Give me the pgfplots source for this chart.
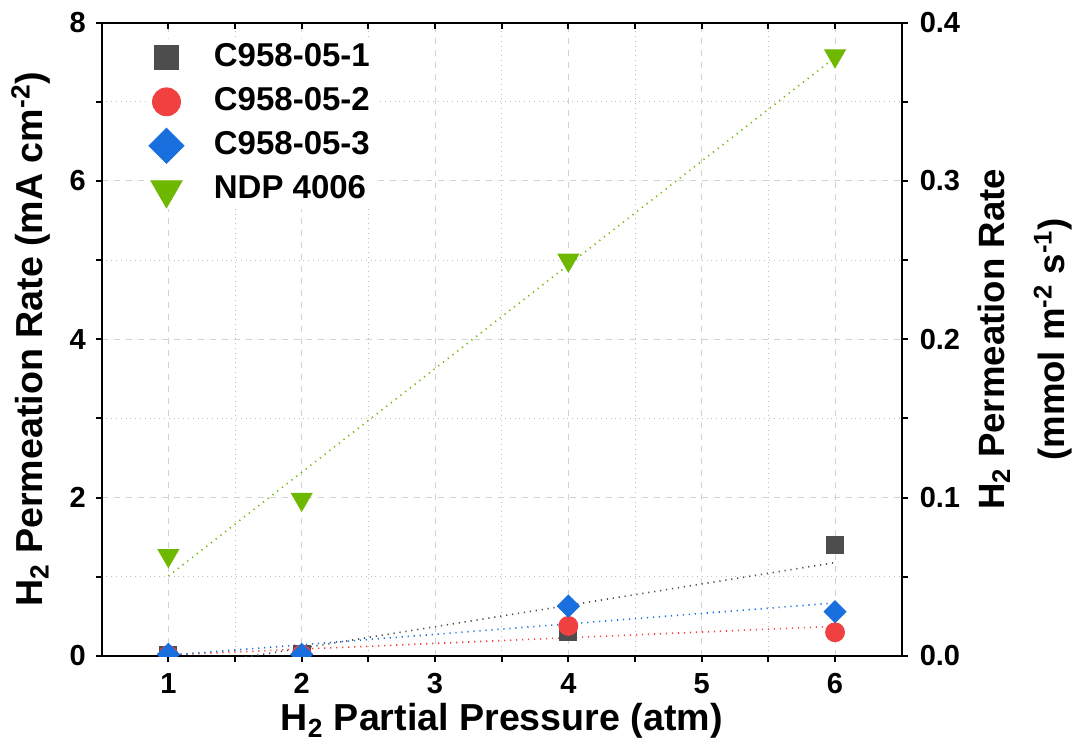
\documentclass[border=0pt]{standalone}
\usepackage{fontspec}
\setmainfont{Liberation Sans}
\usepackage{pgfplots}
\pgfplotsset{compat=1.18}
\definecolor{cblack}{HTML}{4D4D4D}
\definecolor{cred}{HTML}{F14040}
\definecolor{cblue}{HTML}{1A6FDF}
\definecolor{cgreen}{HTML}{6FB802}
\pgfplotsset{
  base/.style={scale only axis, width=400pt, height=316.7pt, xmin=0.5, xmax=6.5, ymin=0, ymax=8,
    axis line style={line width=1pt}, every tick/.style={black, line width=1pt},
    major tick length=3pt, minor tick length=3pt,
    tick label style={font=\bfseries\fontsize{14.5}{14.5}\selectfont},
    /pgf/number format/assume math mode=true},
  fitline/.style={line width=0.8pt, dash pattern=on 0.6pt off 2.4pt, forget plot},
}
\begin{document}
\begin{tikzpicture}
\useasboundingbox (-50.85pt,-45pt) rectangle (486.65pt,328pt);
\begin{axis}[base, axis x line*=bottom, axis y line*=left, tick align=outside,
  clip marker paths=true,
  xtick={1,2,3,4,5,6}, minor x tick num=1, ytick={0,2,4,6,8}, minor y tick num=1,
  xticklabel style={yshift=-2pt}, yticklabel style={xshift=-1.5pt},
  grid=both, major grid style={dashed, gray!35, line width=0.5pt},
  minor grid style={dotted, gray!50, line width=0.5pt},
  xlabel={H\textsubscript{2} Partial Pressure (atm)},
  ylabel={H\textsubscript{2} Permeation Rate (mA cm\textsuperscript{-2})},
  every axis x label/.style={at={(axis description cs:0.5,0)}, anchor=center, yshift=-32.5pt, font=\bfseries\fontsize{18.8}{18.8}\selectfont},
  every axis y label/.style={at={(axis description cs:0,0.5)}, anchor=center, xshift=-35.5pt, rotate=90, font=\bfseries\fontsize{18.8}{18.8}\selectfont},
  legend image code/.code={\path (0pt,0pt) (20pt,0pt); \draw[#1] plot coordinates {(10pt,0pt)};},
  legend cell align=left,
  legend style={at={(0.055,0.975)}, anchor=north west, draw=none, fill=white, inner sep=0pt,
    font=\bfseries\fontsize{16.5}{16.5}\selectfont,
    nodes={inner ysep=2pt, inner xsep=3pt, text height=12pt, text depth=3pt},
    row sep=3pt, /tikz/every odd column/.append style={column sep=10.5pt}},
]
\addplot[fitline, cblack] coordinates {(1,-0.17) (6,1.18)};
\addplot[fitline, cred] coordinates {(1,0.015) (6,0.375)};
\addplot[fitline, cblue] coordinates {(1,0.01) (6,0.67)};
\addplot[fitline, cgreen] coordinates {(1,1.01) (6,7.56)};
\addplot[only marks, mark=square*, mark size=4.25pt, color=cblack, forget plot] coordinates {(1,0.02) (2,0.03) (4,0.30) (6,1.40)};
\addplot[only marks, mark=*, mark size=4.75pt, color=cred, forget plot] coordinates {(1,0.01) (2,0.02) (4,0.38) (6,0.30)};
\addplot[only marks, mark=square*, mark size=3.9pt, mark options={rotate=45}, color=cblue, forget plot] coordinates {(1,0.02) (2,0.02) (4,0.63) (6,0.56)};
\addplot[only marks, mark=triangle*, mark size=6pt, mark options={rotate=180}, color=cgreen, forget plot] coordinates {(1,1.27) (2,1.98) (4,5.00) (6,7.58)};
\addlegendimage{only marks, mark=square*, mark size=6pt, color=cblack}
\addlegendentry{C958-05-1}
\addlegendimage{only marks, mark=*, mark size=7pt, color=cred}
\addlegendentry{C958-05-2}
\addlegendimage{only marks, mark=square*, mark size=6.2pt, mark options={rotate=45}, color=cblue}
\addlegendentry{C958-05-3}
\addlegendimage{only marks, mark=triangle*, mark size=9pt, mark options={rotate=180}, color=cgreen}
\addlegendentry{NDP 4006}
\end{axis}
\begin{axis}[base, ymin=0, ymax=0.4, axis y line*=right, axis x line=none, tick align=outside,
  ytick={0,0.1,0.2,0.3,0.4}, minor y tick num=1,
  yticklabel style={xshift=2.5pt, /pgf/number format/.cd, fixed, fixed zerofill, precision=1},
  ylabel={H\textsubscript{2} Permeation Rate\\(mmol m\textsuperscript{-2} s\textsuperscript{-1})},
  every axis y label/.style={at={(axis description cs:1,0.5)}, anchor=center, xshift=61.5pt, rotate=90, align=center, font=\bfseries\fontsize{18.3}{30}\selectfont},
]
\addplot[draw=none] coordinates {(1,0)};
\end{axis}
\begin{axis}[base, axis x line*=top, axis y line=none, tick align=inside,
  xtick={1,2,3,4,5,6}, minor x tick num=1, xticklabels={}]
\addplot[draw=none] coordinates {(1,0)};
\end{axis}
\end{tikzpicture}
\end{document}
